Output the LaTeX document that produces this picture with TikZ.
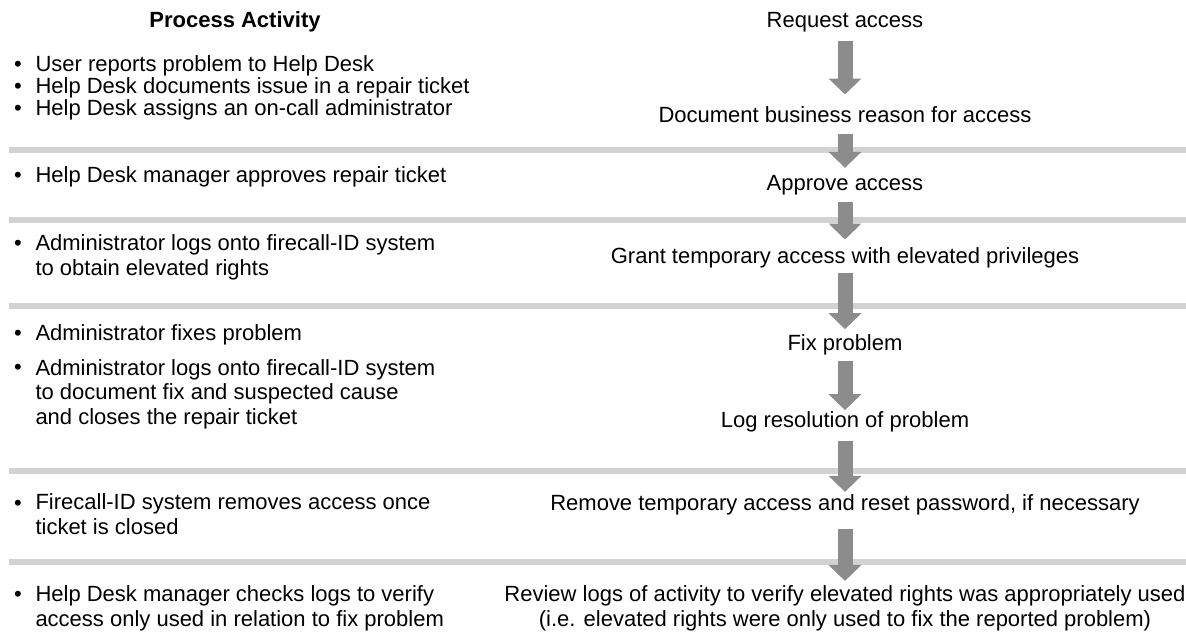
\documentclass[tikz,border=0pt]{standalone}
\usepackage{fontspec}
\setmainfont{Liberation Sans}
\usetikzlibrary{arrows.meta}

\definecolor{barGray}{RGB}{210,210,210}
\definecolor{arrowGray}{RGB}{140,140,140}

\tikzset{every picture/.style={line width=0.75pt}}

\begin{document}
\begin{tikzpicture}[x=0.75pt,y=0.75pt,yscale=-1,xscale=1,
  txt/.style={inner sep=0pt, font=\fontsize{16.5pt}{18.5pt}\selectfont},
  oneline/.style={text height=11.5pt, text depth=3.5pt},
  stepnode/.style={txt, align=center},
  actnode/.style={txt, anchor=west, align=left},
  dotnode/.style={txt, oneline},
  sepbar/.style={draw=barGray, line width=4.5pt},
  flowarrow/.style={draw=arrowGray, line width=11.25pt, -{Triangle[width=24pt,length=12pt]}}]
\useasboundingbox (0,0) rectangle (1186,639);

%Separator bars
\draw [sepbar] (9,150) -- (1186,150) ;
\draw [sepbar] (9,219.5) -- (1186,219.5) ;
\draw [sepbar] (9,305.5) -- (1186,305.5) ;
\draw [sepbar] (9,470.5) -- (1186,470.5) ;
\draw [sepbar] (9,561.5) -- (1186,561.5) ;

% Left column heading
\node [txt, oneline, font=\fontsize{16.5pt}{18.5pt}\selectfont\bfseries] (head) at (235,22) {Process Activity};

% Left column items
\node [dotnode] (d1) at (18,66) {\textbullet};
\node [actnode, oneline] (a1) at (35,66) {User reports problem to Help Desk};
\node [dotnode] (d2) at (18,88) {\textbullet};
\node [actnode, oneline] (a2) at (35,88) {Help Desk documents issue in a repair ticket};
\node [dotnode] (d3) at (18,110) {\textbullet};
\node [actnode, oneline] (a3) at (35,110) {Help Desk assigns an on-call administrator};

\node [dotnode] (d4) at (18,177) {\textbullet};
\node [actnode, oneline] (a4) at (35,177) {Help Desk manager approves repair ticket};

\node [dotnode] (d5) at (18,245) {\textbullet};
\node [actnode] (a5) at (35,257) {Administrator logs onto firecall-ID system\\to obtain elevated rights};

\node [dotnode] (d6) at (18,335) {\textbullet};
\node [actnode, oneline] (a6) at (35,335) {Administrator fixes problem};
\node [dotnode] (d7) at (18,369) {\textbullet};
\node [actnode] (a7) at (35,394) {Administrator logs onto firecall-ID system\\to document fix and suspected cause\\and closes the repair ticket};

\node [dotnode] (d8) at (18,505) {\textbullet};
\node [actnode] (a8) at (35,517.5) {Firecall-ID system removes access once\\ticket is closed\strut};

\node [dotnode] (d9) at (18,596) {\textbullet};
\node [actnode] (a9) at (35,608) {Help Desk manager checks logs to verify\\access only used in relation to fix problem};

% Right column steps
\node [stepnode, oneline] (req) at (845,22) {Request access};
\node [stepnode, oneline] (doc) at (845,117) {Document business reason for access};
\node [stepnode, oneline] (appr) at (845,185) {Approve access};
\node [stepnode, oneline] (grant) at (845,258) {Grant temporary access with elevated privileges};
\node [stepnode, oneline] (fix) at (845,345) {Fix problem};
\node [stepnode, oneline] (logres) at (845,422) {Log resolution of problem};
\node [stepnode, oneline] (remove) at (845,505) {Remove temporary access and reset password, if necessary};
\node [stepnode] (review) at (845,608) {Review logs of activity to verify elevated rights was appropriately used\\(i.e. elevated rights were only used to fix the reported problem)};

% Flow arrows
\draw [flowarrow, shorten <=6pt, shorten >=9pt] (req) -- (doc) ;
\draw [flowarrow, shorten <=4.5pt, shorten >=5pt] (doc) -- (appr) ;
\draw [flowarrow, shorten <=5pt, shorten >=6pt] (appr) -- (grant) ;
\draw [flowarrow, shorten <=3pt, shorten >=4pt] (grant) -- (fix) ;
\draw [flowarrow, shorten <=4pt, shorten >=1pt] (fix) -- (logres) ;
\draw [flowarrow, shorten <=6pt, shorten >=2pt] (logres) -- (remove) ;
\draw [flowarrow, shorten <=10pt, shorten >=3pt] (remove) -- (review) ;

\end{tikzpicture}
\end{document}
